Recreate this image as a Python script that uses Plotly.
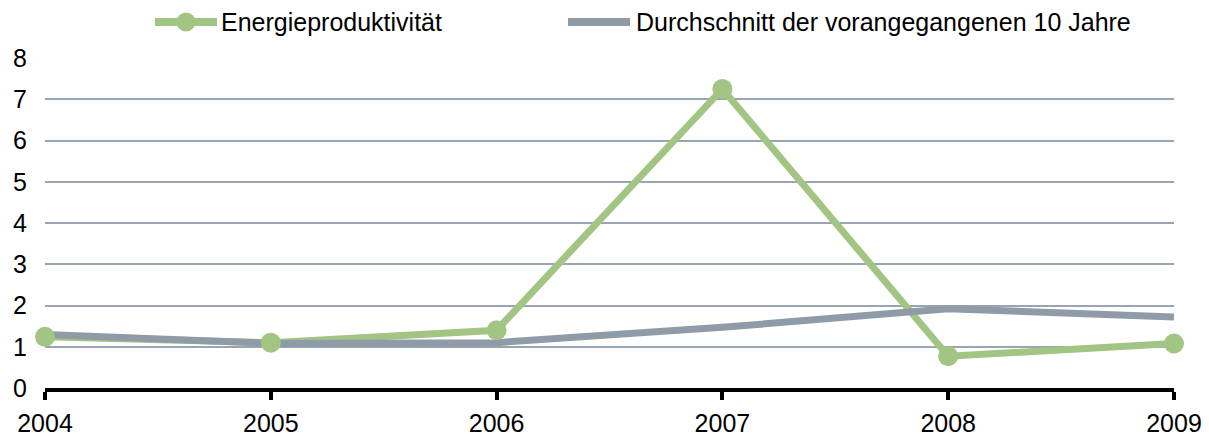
import plotly.graph_objects as go

years = [2004, 2005, 2006, 2007, 2008, 2009]
energieproduktivitaet = [1.24, 1.10, 1.40, 7.25, 0.77, 1.08]
durchschnitt_10_jahre = [1.30, 1.08, 1.10, 1.47, 1.92, 1.72]
y_ticks = [0, 1, 2, 3, 4, 5, 6, 7, 8]
series_names = ["Energieproduktivität", "Durchschnitt der vorangegangenen 10 Jahre"]

GREEN = "#a2c584"
GRAY = "#8f9ca8"
GRID = "#99a5b0"
FONT = "Liberation Sans, Arial, sans-serif"
FSIZE = 25

fig = go.Figure()

# green line first, grey average line over it, green markers on top
fig.add_trace(go.Scatter(x=years, y=energieproduktivitaet, mode="lines",
                         line=dict(color=GREEN, width=7), cliponaxis=False,
                         showlegend=False, hoverinfo="skip"))
fig.add_trace(go.Scatter(x=years, y=durchschnitt_10_jahre, mode="lines",
                         line=dict(color=GRAY, width=7), cliponaxis=False,
                         name=series_names[1], showlegend=False))
fig.add_trace(go.Scatter(x=years, y=energieproduktivitaet, mode="markers",
                         marker=dict(color=GREEN, size=20), cliponaxis=False,
                         name=series_names[0], showlegend=False))

# legend drawn in pixel-like paper coordinates above the plot
W, H = 1209, 440
ML, MR, MT, MB = 45, 35, 58, 52
pw, ph = W - ML - MR, H - MT - MB


def px(x):
    return (x - ML) / pw


def py(y):
    return (H - MB - y) / ph


legend_y = 22
entries = [
    (155, 217, 219, GREEN, True, series_names[0]),
    (568, 630, 634, GRAY, False, series_names[1]),
]
for x0, x1, tx, col, with_marker, label in entries:
    fig.add_shape(type="line", xref="paper", yref="paper",
                  x0=px(x0), x1=px(x1), y0=py(legend_y), y1=py(legend_y),
                  line=dict(color=col, width=8))
    if with_marker:
        cx = (x0 + x1) / 2
        r = 9.5
        fig.add_shape(type="circle", xref="paper", yref="paper",
                      x0=px(cx - r), x1=px(cx + r),
                      y0=py(legend_y + r), y1=py(legend_y - r),
                      fillcolor=col, line=dict(width=0))
    fig.add_annotation(xref="paper", yref="paper", x=px(tx), y=py(legend_y),
                       xanchor="left", yanchor="middle", showarrow=False,
                       text=label, font=dict(family=FONT, size=FSIZE, color="#000000"))

fig.update_layout(
    width=W, height=H,
    margin=dict(l=ML, r=MR, t=MT, b=MB, pad=0, autoexpand=False),
    paper_bgcolor="white", plot_bgcolor="white",
    font=dict(family=FONT, size=FSIZE, color="#000000"),
    showlegend=False,
)
fig.update_xaxes(range=[2004, 2009], tickmode="array", tickvals=years,
                 ticktext=[str(y) for y in years], automargin=False,
                 showgrid=False, zeroline=False,
                 showline=True, linecolor="#000000", linewidth=4,
                 ticks="outside", ticklen=8, tickwidth=4, tickcolor="#000000",
                 ticklabelstandoff=2)
fig.update_yaxes(range=[0, 8], tickmode="array", tickvals=y_ticks,
                 automargin=False,
                 showgrid=True, gridcolor=GRID, gridwidth=2,
                 zeroline=False, showline=False, ticks="",
                 ticklabelstandoff=17)

fig.write_html("out.html")
